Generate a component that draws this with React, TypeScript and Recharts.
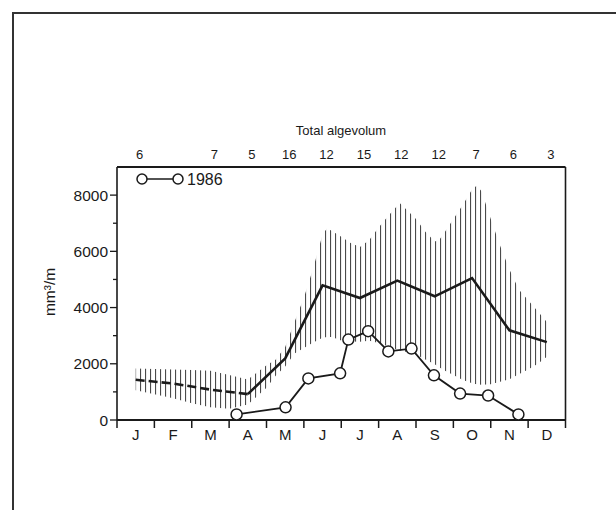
import { ComposedChart, Line, Area, XAxis, YAxis, ReferenceLine } from "recharts"

const months = ["J", "F", "M", "A", "M", "J", "J", "A", "S", "O", "N", "D"]
// number of years behind each monthly mean (printed above the plot)
const sampleCounts = ["6", "", "7", "5", "16", "12", "15", "12", "12", "7", "6", "3"]

// mean, mid-month. Jan–Apr drawn dashed, Apr–Dec solid
const meanEarly = [1430, 1300, 1080, 920]
const meanLate = [920, 2190, 4790, 4340, 4960, 4400, 5050, 3190, 2770]

// hatched range (min / max), x in months from 1 January
const rangeX = [
  0.5, 1, 1.5, 2, 2.5, 3, 3.5, 4, 4.25, 4.5, 4.75, 5, 5.25, 5.5, 5.62, 5.75, 6, 6.25, 6.5, 6.75, 7, 7.25, 7.5,
  7.57, 7.75, 8, 8.25, 8.5, 8.62, 8.75, 9, 9.25, 9.5, 9.62, 9.75, 10, 10.25, 10.5, 10.75, 11, 11.25, 11.5,
]
const rangeLow = [
  1060, 920, 770, 600, 450, 400, 550, 1150, 1580, 1900, 2370, 2560, 2760, 2930, 2950, 2950, 2830, 2790, 2780, 2820,
  2740, 2620, 2500, 2470, 2420, 2330, 2150, 1980, 1880, 1770, 1600, 1420, 1310, 1270, 1250, 1270, 1360, 1450, 1630,
  1800, 1990, 2250,
]
const rangeHigh = [
  1830, 1810, 1800, 1780, 1750, 1600, 1440, 1950, 2150, 2600, 3490, 4350, 5400, 6600, 6820, 6720, 6520, 6300, 6150,
  6400, 6850, 7250, 7620, 7710, 7480, 7150, 6700, 6350, 6400, 6640, 7150, 7650, 8200, 8330, 8150, 7150, 6200, 5350,
  4640, 4260, 3880, 3490,
]

// 1986 samples
const obs1986X = [3.2, 4.51, 5.12, 5.97, 6.19, 6.72, 7.26, 7.88, 8.48, 9.18, 9.93, 10.74]
const obs1986 = [200, 450, 1480, 1660, 2860, 3160, 2440, 2540, 1590, 940, 870, 200]

const yTicks = [0, 1000, 2000, 3000, 4000, 5000, 6000, 7000, 8000]
const monthEdges = [0, 1, 2, 3, 4, 5, 6, 7, 8, 9, 10, 11, 12]
const monthMids = months.map((_, i) => i + 0.5)

type Row = { x: number; lo?: number; hi?: number; early?: number; late?: number; y86?: number }

const rowMap = new Map<number, Row>()
const row = (x: number) => {
  const k = Math.round(x * 1000) / 1000
  let r = rowMap.get(k)
  if (!r) {
    r = { x: k }
    rowMap.set(k, r)
  }
  return r
}
rangeX.forEach((x, i) => {
  const r = row(x)
  r.lo = rangeLow[i]
  r.hi = rangeHigh[i]
})
meanEarly.forEach((v, i) => (row(i + 0.5).early = v))
meanLate.forEach((v, i) => (row(i + 3.5).late = v))
obs1986X.forEach((x, i) => (row(x).y86 = obs1986[i]))
const data = [...rowMap.values()].sort((a, b) => a.x - b.x)

const FONT = '"Liberation Sans", Arial, sans-serif'
const INK = "#1a1a1a"
const PLOT_LEFT = 117
const PLOT_RIGHT = 565.5
const MONTH_W = (PLOT_RIGHT - PLOT_LEFT) / 12

const MonthTick = ({ x, y, payload }: any) => (
  <g>
    <line x1={x} y1={y} x2={x} y2={y + 8} stroke={INK} strokeWidth={1.5} />
    {payload.value < 12 && (
      <text x={x + MONTH_W / 2} y={y + 20} textAnchor="middle" fontSize={15} fontFamily={FONT} fill={INK}>
        {months[payload.value]}
      </text>
    )}
  </g>
)

const CountTick = ({ x, y, payload }: any) => (
  <text x={x + 4} y={y - 8} textAnchor="middle" fontSize={13} fontFamily={FONT} fill={INK}>
    {sampleCounts[Math.floor(payload.value)]}
  </text>
)

const ValueTick = ({ x, y, payload }: any) => {
  const major = payload.value % 2000 === 0
  return (
    <g>
      <line x1={x - (major ? 7 : 4)} y1={y} x2={x} y2={y} stroke={INK} strokeWidth={1.3} />
      {major && (
        <text x={x - 9} y={y + 5.5} textAnchor="end" fontSize={15.5} fontFamily={FONT} fill={INK}>
          {payload.value}
        </text>
      )}
    </g>
  )
}

export default function App() {
  return (
    <div style={{ position: "absolute", left: 0, top: 0, width: 616, height: 510, background: "#fff" }}>
      <div style={{ position: "absolute", left: 12, top: 12, width: 604, height: 2, background: "#333" }} />
      <div style={{ position: "absolute", left: 12, top: 12, width: 2, height: 498, background: "#333" }} />
      <ComposedChart
        width={616}
        height={510}
        data={data}
        margin={{ top: 127, right: 50.5, bottom: 60, left: 37 }}
        style={{ position: "absolute", left: 0, top: 0 }}
      >
        <defs>
          <pattern id="hatch" patternUnits="userSpaceOnUse" width={5} height={10}>
            <rect x={0} y={0} width={1.1} height={10} fill="#4a4a4a" />
          </pattern>
        </defs>
        <XAxis
          xAxisId="b"
          type="number"
          dataKey="x"
          domain={[0, 12]}
          ticks={monthEdges}
          interval={0}
          height={30}
          tickSize={0}
          tickMargin={0}
          tickLine={false}
          tick={<MonthTick />}
          axisLine={{ stroke: INK, strokeWidth: 2 }}
          allowDataOverflow
        />
        <XAxis
          xAxisId="t"
          orientation="top"
          type="number"
          dataKey="x"
          domain={[0, 12]}
          ticks={monthMids}
          interval={0}
          height={40}
          tickSize={0}
          tickMargin={0}
          tickLine={false}
          tick={<CountTick />}
          axisLine={{ stroke: INK, strokeWidth: 1.8 }}
          allowDataOverflow
        />
        <YAxis
          type="number"
          domain={[0, 9000]}
          ticks={yTicks}
          interval={0}
          width={80}
          tickSize={0}
          tickMargin={0}
          tickLine={false}
          tick={<ValueTick />}
          axisLine={{ stroke: INK, strokeWidth: 1.6 }}
          allowDataOverflow
        />
        <ReferenceLine xAxisId="b" x={12} stroke={INK} strokeWidth={1.6} />
        <Area
          xAxisId="b"
          type="linear"
          dataKey={(d: Row) => [d.lo ?? null, d.hi ?? null]}
          stroke="none"
          fill="url(#hatch)"
          fillOpacity={1}
          connectNulls
          isAnimationActive={false}
          activeDot={false}
        />
        <Line
          xAxisId="b"
          type="linear"
          dataKey="early"
          stroke={INK}
          strokeWidth={2.6}
          strokeDasharray="9 4"
          dot={false}
          activeDot={false}
          connectNulls
          isAnimationActive={false}
        />
        <Line
          xAxisId="b"
          type="linear"
          dataKey="late"
          stroke={INK}
          strokeWidth={2.6}
          dot={false}
          activeDot={false}
          connectNulls
          isAnimationActive={false}
        />
        <Line
          xAxisId="b"
          type="linear"
          dataKey="y86"
          stroke={INK}
          strokeWidth={1.8}
          dot={{ r: 5.5, fill: "#fff", stroke: INK, strokeWidth: 1.5 }}
          activeDot={false}
          connectNulls
          isAnimationActive={false}
        />
        <text x={341} y={135} textAnchor="middle" fontSize={13} fontFamily={FONT} fill={INK}>
          Total algevolum
        </text>
        <text
          x={55}
          y={292}
          transform="rotate(-90 55 292)"
          textAnchor="middle"
          fontSize={15.5}
          fontFamily={FONT}
          fill={INK}
        >
          mm³/m
        </text>
        <g>
          <line x1={142} y1={179} x2={178} y2={179} stroke={INK} strokeWidth={1.5} />
          <circle cx={142} cy={179} r={5} fill="#fff" stroke={INK} strokeWidth={1.5} />
          <circle cx={178} cy={179} r={5} fill="#fff" stroke={INK} strokeWidth={1.5} />
          <text x={187} y={185} fontSize={16} fontFamily={FONT} fill={INK}>
            1986
          </text>
        </g>
      </ComposedChart>
    </div>
  )
}
